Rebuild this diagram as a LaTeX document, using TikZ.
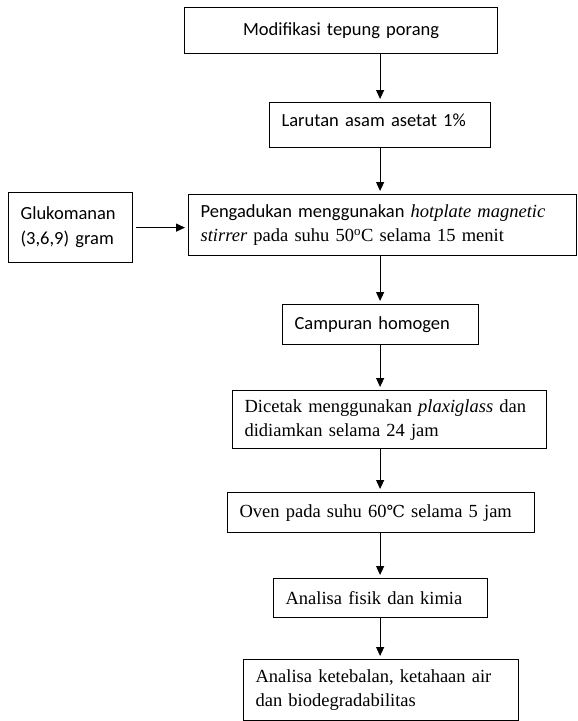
\documentclass[tikz,border=0pt]{standalone}
\usepackage{fontspec}
\setmainfont{Liberation Serif}
\newfontfamily\calibri{Carlito}
\newfontfamily\degfont{DejaVu Serif}
\usetikzlibrary{positioning, arrows.meta}

\begin{document}
\begin{tikzpicture}[x=1pt, y=-1pt,
  box/.style={rectangle, draw, line width=1.2pt, anchor=north west, inner xsep=12pt, inner ysep=0pt, align=left},
  sans/.style={font=\calibri\fontsize{18.5}{25}\selectfont},
  serif/.style={font=\fontsize{18.5}{24}\selectfont},
  arr/.style={-{Triangle[length=9pt,width=8pt]}, line width=1.1pt, shorten >=3pt}]
\useasboundingbox (0,0) rectangle (578,721);

% Preparation
\node[box, sans, align=center, text width=289pt, minimum height=46pt] (mod) at (184,7) {Modifikasi tepung porang};
\node[box, sans, text width=197pt, minimum height=45pt, text depth=9pt] (lar) at (269,102) {Larutan asam asetat 1\%};
\node[box, sans, text width=100pt, minimum height=70pt] (gluko) at (8,192) {Glukomanan\\(3,6,9) gram};
\node[box, serif, text width=364pt, minimum height=61pt] (peng) at (188,194) {{\calibri Pengadukan menggunakan} \textit{hotplate magnetic}\\\textit{stirrer} pada suhu 50\textsuperscript{o}C selama 15 menit};
\node[box, sans, text width=172pt, minimum height=40pt] (camp) at (282,304) {Campuran homogen};

% Film making and analysis
\node[box, serif, text width=290pt, minimum height=58pt] (cetak) at (232,390) {Dicetak menggunakan \textit{plaxiglass} dan\\didiamkan selama 24 jam};
\node[box, serif, text width=283pt, minimum height=40pt] (oven) at (227,492) {Oven pada suhu 60{\degfont\fontsize{16.5}{24}\selectfont ℃} selama 5 jam};
\node[box, serif, text width=190pt, minimum height=39pt] (fisik) at (273,578) {Analisa fisik dan kimia};
\node[box, serif, text width=251pt, minimum height=61pt] (uji) at (243,659) {Analisa ketebalan, ketahaan air\\dan biodegradabilitas};

\draw[arr] (mod.south -| lar.north) -- (lar.north);
\draw[arr] (lar.south) -- (lar.south |- peng.north);
\draw[arr, shorten <=3pt] (gluko.east) -- (gluko.east -| peng.west);
\draw[arr] (peng.south -| lar.south) -- (lar.south |- camp.north);
\draw[arr] (camp.south -| lar.south) -- (lar.south |- cetak.north);
\draw[arr] (cetak.south -| lar.south) -- (lar.south |- oven.north);
\draw[arr] (oven.south -| lar.south) -- (lar.south |- fisik.north);
\draw[arr] (fisik.south -| lar.south) -- (lar.south |- uji.north);

\end{tikzpicture}
\end{document}
